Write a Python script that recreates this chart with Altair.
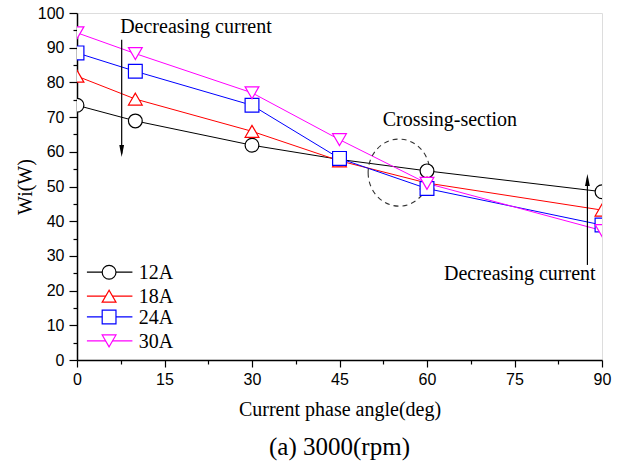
import altair as alt
import pandas as pd

# ---- data ----
angles = [0, 10, 30, 45, 60, 90]
wi_12a = [73.4, 68.9, 61.9, 57.8, 54.5, 48.5]
wi_18a = [81.8, 75.2, 65.9, 57.4, 51.0, 43.2]
wi_24a = [88.5, 83.2, 73.4, 58.1, 49.4, 38.9]
wi_30a = [94.3, 88.3, 77.0, 63.5, 50.9, 37.3]
series = ["12A", "18A", "24A", "30A"]
colors = ["#000000", "#ff0000", "#0000ff", "#ff00ff"]
shapes = ["circle", "triangle-up", "square", "triangle-down"]

legend_y = [25.3, 18.4, 12.4, 5.5]
legend_x0, legend_xm, legend_x1, legend_xt = 1.7, 5.5, 9.5, 10.6

x_ticks = [v * 7.5 for v in range(13)]
y_ticks = list(range(0, 101, 5))

SERIF = "Liberation Serif"
SANS = "Liberation Sans"

rows = []
for name, vals in zip(series, [wi_12a, wi_18a, wi_24a, wi_30a]):
    for a, v in zip(angles, vals):
        rows.append({"angle": a, "wi": v, "series": name})
df = pd.DataFrame(rows)

leg = pd.DataFrame({
    "series": series,
    "y": legend_y,
    "x0": [legend_x0] * 4,
    "xm": [legend_xm] * 4,
    "x1": [legend_x1] * 4,
    "xt": [legend_xt] * 4,
})

xs = alt.Scale(domain=[0, 90], nice=False, zero=False)
ys = alt.Scale(domain=[0, 100], nice=False)
color = alt.Color("series:N", scale=alt.Scale(domain=series, range=colors), legend=None)
stroke = alt.Stroke("series:N", scale=alt.Scale(domain=series, range=colors), legend=None)
shape = alt.Shape("series:N", scale=alt.Scale(domain=series, range=shapes), legend=None)

x_axis = alt.Axis(
    values=x_ticks,
    labelExpr="datum.value % 15 == 0 ? datum.label : ''",
    tickSize={"condition": {"test": "datum.value % 15 == 0", "value": 7}, "value": 4},
    title="Current phase angle(deg)",
    titleFont=SERIF, titleFontSize=20, titleFontWeight="normal", titlePadding=12,
    labelFont=SANS, labelFontSize=16, labelColor="#000", labelPadding=4,
    labelOverlap=False,
    domainColor="#000", domainWidth=1.5, tickColor="#000", tickWidth=1.2,
    grid=False, labelFlush=False, titleColor="#000",
)
y_axis = alt.Axis(
    values=y_ticks,
    labelExpr="datum.value % 10 == 0 ? datum.label : ''",
    tickSize={"condition": {"test": "datum.value % 10 == 0", "value": 8}, "value": 4},
    title="Wi(W)",
    titleFont=SERIF, titleFontSize=20, titleFontWeight="normal", titlePadding=2,
    labelFont=SANS, labelFontSize=16, labelColor="#000", labelPadding=5,
    labelOverlap=False,
    domainColor="#000", domainWidth=1.5, tickColor="#000", tickWidth=1.2,
    grid=False, labelFlush=False, titleColor="#000",
)


def X(field):
    return alt.X(field, scale=xs, axis=x_axis)


def Y(field):
    return alt.Y(field, scale=ys, axis=y_axis)


base = alt.Chart(df)
lines = base.mark_line(strokeWidth=1, clip=True).encode(
    x=X("angle:Q"), y=Y("wi:Q"), color=color, detail="series:N",
)
points = base.mark_point(filled=True, fill="white", size=190, strokeWidth=1.2, clip=True, opacity=1).encode(
    x=X("angle:Q"), y=Y("wi:Q"), stroke=stroke, shape=shape,
)

# custom legend inside the plot
legbase = alt.Chart(leg)
leg_lines = legbase.mark_rule(strokeWidth=1.2).encode(
    x=X("x0:Q"), x2="x1:Q", y=Y("y:Q"), color=color,
)
leg_pts = legbase.mark_point(filled=True, fill="white", size=190, strokeWidth=1.2, opacity=1).encode(
    x=X("xm:Q"), y=Y("y:Q"), stroke=stroke, shape=shape,
)
leg_text = legbase.mark_text(align="left", baseline="middle", font=SERIF, fontSize=20, color="#000", dy=1).encode(
    x=X("xt:Q"), y=Y("y:Q"), text="series:N",
)

# annotations
ann_left = pd.DataFrame({"x": [7.4, 52.4], "y": [94.2, 67.5], "t": ["Decreasing current", "Crossing-section"]})
ann_right = pd.DataFrame({"x": [88.9], "y": [23.0], "t": ["Decreasing current"]})
t1 = alt.Chart(ann_left).mark_text(align="left", baseline="alphabetic", font=SERIF, fontSize=20, color="#000").encode(
    x=X("x:Q"), y=Y("y:Q"), text="t:N")
t2 = alt.Chart(ann_right).mark_text(align="right", baseline="alphabetic", font=SERIF, fontSize=20, color="#000").encode(
    x=X("x:Q"), y=Y("y:Q"), text="t:N")

arrows = pd.DataFrame({"x": [7.66, 87.5], "y0": [92.3, 27.4], "y1": [59.5, 52.5]})
arr_rules = alt.Chart(arrows).mark_rule(color="#000", strokeWidth=1.2).encode(
    x=X("x:Q"), y=Y("y0:Q"), y2="y1:Q")
heads_down = pd.DataFrame({"x": [7.66], "y": [60.2]})
heads_up = pd.DataFrame({"x": [87.5], "y": [51.9]})
hd = alt.Chart(heads_down).mark_point(shape="M-0.4,-1L0.4,-1L0,1Z", filled=True, color="#000", size=144, opacity=1).encode(
    x=X("x:Q"), y=Y("y:Q"))
hu = alt.Chart(heads_up).mark_point(shape="M-0.4,1L0.4,1L0,-1Z", filled=True, color="#000", size=144, opacity=1).encode(
    x=X("x:Q"), y=Y("y:Q"))

ell = pd.DataFrame({"x": [55.2], "y": [54.0]})
ellipse = alt.Chart(ell).mark_point(
    shape="M-0.92,0A0.92,1 0 1,0 0.92,0A0.92,1 0 1,0 -0.92,0Z",
    filled=False, stroke="#333", strokeWidth=1.1, strokeDash=[5, 4], size=4500, opacity=1,
).encode(x=X("x:Q"), y=Y("y:Q"))

chart = alt.layer(
    lines, ellipse, points, leg_lines, leg_pts, leg_text, t1, t2, arr_rules, hd, hu
).properties(
    width=525, height=347,
    title=alt.TitleParams("(a) 3000(rpm)", orient="bottom", anchor="middle", frame="group",
                          font=SERIF, fontSize=25, fontWeight="normal", color="#000", offset=16),
    autosize=alt.AutoSizeParams(type="none"),
    padding={"left": 77, "top": 13, "right": 22, "bottom": 102},
).configure_view(stroke="#000", strokeWidth=1.5).configure(background="white")

chart.save("out.html", embed_options={"renderer": "svg", "actions": False})
